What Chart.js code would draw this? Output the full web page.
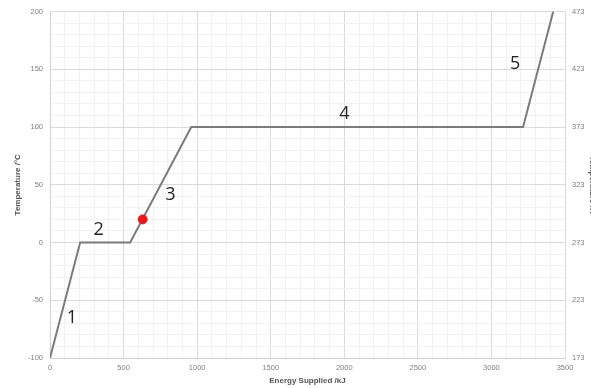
<!DOCTYPE html>
<html>
<head>
<meta charset="utf-8">
<script src="https://cdn.jsdelivr.net/npm/chart.js@4"></script>
<style>
  html, body { margin: 0; padding: 0; background: #fff; overflow: hidden; width: 591px; height: 388px; }
  canvas { display: block; }
</style>
</head>
<body>
<canvas id="heatingChart" width="600" height="388"></canvas>
<script>
// heating curve of water
const energy = [0, 205, 545, 960, 3215, 3420];
const temperature = [-100, 0, 0, 100, 100, 200];

// marked point on stage 3
const markEnergy = [630];
const markTemp = [20];

// stage numbers and where they sit (data units)
const stageNames = ["1", "2", "3", "4", "5"];
const stageEnergy = [149, 331, 818, 2000, 3162];
const stageTemp = [-65, 11, 41, 111, 155];

const kelvinLabels = [173, 223, 273, 323, 373, 423, 473];

const tickFont = { family: "Liberation Sans, Arial", size: 7.5 };
const titleFont = { family: "Liberation Sans, Arial", size: 8, weight: "bold" };

// draws the stage numbers through the scales
const stagePlugin = {
  id: "stageNumbers",
  afterDatasetsDraw(chart) {
    const ctx = chart.ctx;
    const xs = chart.scales.x;
    const ys = chart.scales.y;
    ctx.save();
    ctx.fillStyle = "#222";
    ctx.font = "18px 'Open Sans', 'Liberation Sans', sans-serif";
    ctx.textAlign = "center";
    ctx.textBaseline = "middle";
    stageNames.forEach((name, i) => {
      ctx.fillText(name, xs.getPixelForValue(stageEnergy[i]), ys.getPixelForValue(stageTemp[i]));
    });
    ctx.restore();
  }
};

const points = energy.map((e, i) => ({ x: e, y: temperature[i] }));
const marks = markEnergy.map((e, i) => ({ x: e, y: markTemp[i] }));

const ctx = document.getElementById("heatingChart").getContext("2d");

new Chart(ctx, {
  type: "line",
  data: {
    datasets: [
      {
        data: marks,
        showLine: false,
        pointRadius: 4.5,
        pointBackgroundColor: "#e8191d",
        pointBorderColor: "#e8191d",
        order: 0,
      },
      {
        data: points,
        borderColor: "#7b7b7b",
        borderWidth: 2,
        pointRadius: 0,
        tension: 0,
        fill: false,
        order: 1,
      },
    ],
  },
  options: {
    responsive: false,
    animation: false,
    layout: { padding: { top: 10, left: 0, right: 0, bottom: 0 } },
    plugins: {
      legend: { display: false },
      tooltip: { enabled: false },
    },
    scales: {
      x: {
        type: "linear",
        min: 0,
        max: 3500,
        afterFit(scale) { scale.height = 30; },
        ticks: {
          stepSize: 100,
          autoSkip: false,
          maxRotation: 0,
          padding: 5,
          font: tickFont,
          color: "#808080",
          callback: (v) => (v % 500 === 0 ? v : ""),
        },
        grid: {
          drawTicks: false,
          color: (c) => (c.tick && c.tick.value % 500 === 0 ? "#dadada" : "#f1f1f1"),
        },
        border: { color: "#d0d0d0" },
        title: {
          display: true,
          text: "Energy Supplied /kJ",
          font: titleFont,
          color: "#555",
          padding: { top: 0, bottom: 2 },
        },
      },
      y: {
        min: -100,
        max: 200,
        afterFit(scale) { scale.width = 50; },
        ticks: {
          stepSize: 10,
          autoSkip: false,
          padding: 7,
          font: tickFont,
          color: "#808080",
          callback: (v) => (v % 50 === 0 ? v : ""),
        },
        grid: {
          drawTicks: false,
          color: (c) => (c.tick && c.tick.value % 50 === 0 ? "#dadada" : "#f1f1f1"),
        },
        border: { color: "#d0d0d0" },
        title: {
          display: true,
          text: "Temperature /°C",
          font: titleFont,
          color: "#555",
          padding: { top: 13, bottom: 0 },
        },
      },
      y2: {
        position: "right",
        min: 173,
        max: 473,
        afterFit(scale) { scale.width = 35; },
        ticks: {
          stepSize: 10,
          autoSkip: false,
          padding: 7,
          font: tickFont,
          color: "#808080",
          callback: (v) => (kelvinLabels.includes(v) ? v : ""),
        },
        grid: { drawOnChartArea: false, drawTicks: false },
        border: { display: false },
        title: {
          display: true,
          text: "Temperature /K",
          font: titleFont,
          color: "#555",
          padding: { top: 3, bottom: 0 },
        },
      },
    },
  },
  plugins: [stagePlugin],
});
</script>
</body>
</html>
